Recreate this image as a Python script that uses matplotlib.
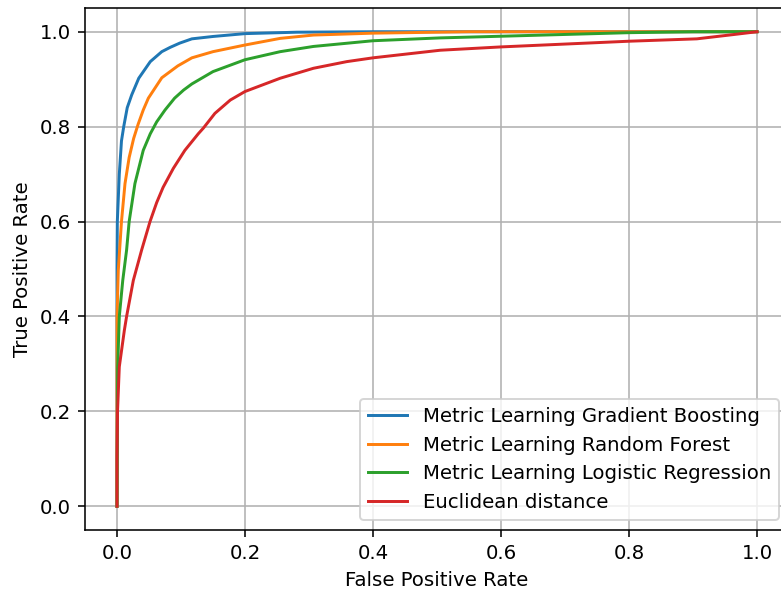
#!/usr/bin/env python
import matplotlib
matplotlib.use('Agg')
import matplotlib.pyplot as plt

# ROC curves
fpr_gb = [0, 0, 0.0005, 0.0036, 0.007, 0.0105, 0.016, 0.023, 0.034, 0.052,
          0.070, 0.083, 0.098, 0.117, 0.150, 0.2, 0.281, 0.4, 1.0]
tpr_gb = [0, 0.5, 0.6, 0.70, 0.77, 0.80, 0.84, 0.867, 0.902, 0.937,
          0.958, 0.967, 0.976, 0.985, 0.990, 0.996, 0.999, 1.0, 1.0]

fpr_rf = [0, 0, 0.002, 0.007, 0.0125, 0.019, 0.026, 0.033, 0.041, 0.049,
          0.07, 0.095, 0.117, 0.15, 0.2, 0.255, 0.307, 0.4, 0.55, 1.0]
tpr_rf = [0, 0.4, 0.497, 0.6, 0.68, 0.735, 0.775, 0.805, 0.835, 0.86,
          0.903, 0.928, 0.945, 0.958, 0.972, 0.986, 0.993, 0.997, 1.0, 1.0]

fpr_lr = [0, 0.001, 0.0036, 0.009, 0.015, 0.019, 0.028, 0.041, 0.052, 0.062,
          0.075, 0.090, 0.104, 0.117, 0.150, 0.2, 0.255, 0.307, 0.4, 0.505,
          0.6, 0.8, 0.9, 1.0]
tpr_lr = [0, 0.29, 0.4, 0.476, 0.54, 0.6, 0.68, 0.75, 0.785, 0.81,
          0.835, 0.86, 0.877, 0.89, 0.916, 0.941, 0.958, 0.969, 0.981, 0.987,
          0.9905, 0.998, 1.0, 1.0]

fpr_eu = [0, 0, 0.0008, 0.0036, 0.0115, 0.015, 0.0255, 0.0385, 0.0516, 0.062,
          0.072, 0.088, 0.106, 0.127, 0.135, 0.153, 0.177, 0.2, 0.255, 0.307,
          0.359, 0.4, 0.505, 0.6, 0.8, 0.906, 0.963, 1.0]
tpr_eu = [0, 0.1, 0.2, 0.294, 0.371, 0.4, 0.476, 0.54, 0.6, 0.64,
          0.672, 0.712, 0.75, 0.785, 0.797, 0.828, 0.856, 0.874, 0.902, 0.923,
          0.937, 0.945, 0.961, 0.968, 0.98, 0.985, 0.994, 1.0]

labels = ['Metric Learning Gradient Boosting', 'Metric Learning Random Forest',
          'Metric Learning Logistic Regression', 'Euclidean distance']


def main():
    dpi = 142
    fig = plt.figure(figsize=(781 / dpi, 592 / dpi), dpi=dpi)
    # the reference is a crop, the right spine falls outside the picture
    ax = fig.add_axes([85 / 781, 62 / 592, 704 / 781, 522 / 592])

    curves = [(fpr_gb, tpr_gb), (fpr_rf, tpr_rf), (fpr_lr, tpr_lr), (fpr_eu, tpr_eu)]
    for (fpr, tpr), label in zip(curves, labels):
        ax.plot(fpr, tpr, label=label)

    ax.set_xlabel('False Positive Rate')
    ax.set_ylabel('True Positive Rate')
    ax.grid(True)
    ax.legend(loc='lower right')

    fig.savefig('out.png', dpi=dpi)


if __name__ == '__main__':
    main()
